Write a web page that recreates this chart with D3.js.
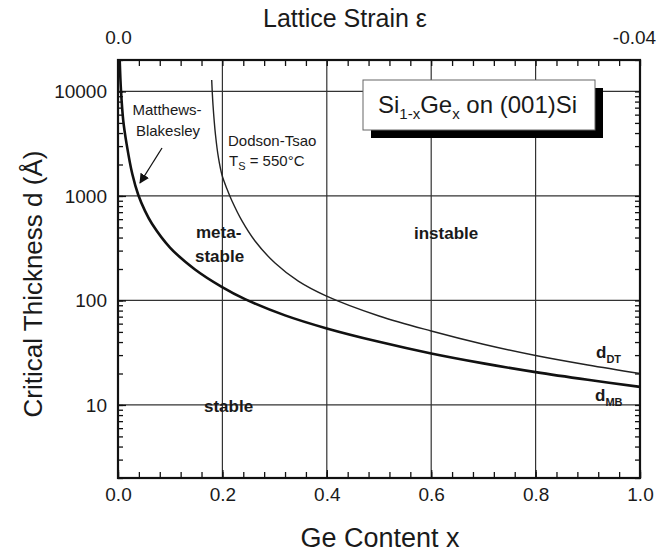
<!DOCTYPE html>
<html>
<head>
<meta charset="utf-8">
<script src="https://cdn.jsdelivr.net/npm/d3@7"></script>
<style>
  body { margin: 0; background: #fff; }
  text { font-family: "Liberation Sans", Arial, Helvetica, sans-serif; fill: #1a1a1a; }
</style>
</head>
<body>
<div id="app"></div>
<script>
// Matthews-Blakesley critical thickness
const mbX = [0.0033, 0.0057, 0.01, 0.0167, 0.0274, 0.0389, 0.0517, 0.0651, 0.0996, 0.1475, 0.1987, 0.2433, 0.32, 0.4, 0.5, 0.6, 0.7, 0.8, 0.9, 1.0];
const mbD = [19700, 10230, 5300, 3100, 1620, 1021, 720, 542, 321, 198, 135, 103, 72, 54, 40.2, 31.1, 25.0, 20.6, 17.4, 14.9];

// Dodson-Tsao, Ts = 550 C
const dtX = [0.1795, 0.182, 0.1868, 0.1925, 0.1992, 0.2088, 0.2184, 0.237, 0.2625, 0.3008, 0.3454, 0.3985, 0.5, 0.6, 0.7, 0.8, 0.9, 1.0];
const dtD = [12870, 7420, 3830, 2310, 1587, 1166, 895, 584, 371, 228, 153, 110.6, 71.0, 51.0, 38.1, 29.7, 24.1, 20.0];

const xTicks = [0.0, 0.2, 0.4, 0.6, 0.8, 1.0];
const yTicks = [10, 100, 1000, 10000];
const strainTicks = [0.0, -0.04];

const w = 659, h = 554;
const m = { top: 60, right: 19, bottom: 76, left: 118 };

const svg = d3.select("#app")
  .append("svg")
  .attr("width", w)
  .attr("height", h);

const x = d3.scaleLinear().domain([0, 1]).range([m.left, w - m.right]);
const y = d3.scaleLog().domain([2, 20000]).range([h - m.bottom, m.top]);
const strain = d3.scaleLinear().domain([0, -0.04]).range([m.left, w - m.right]);

// minor tick positions
const xMinor = d3.range(0, 25.5).map(i => i * 0.04);
const yMinor = [];
[1, 10, 100, 1000, 10000].forEach(dec => {
  for (let k = 1; k <= 9; k++) {
    const v = k * dec;
    if (v >= 2 && v <= 20000) yMinor.push(v);
  }
});

// gridlines
const grid = svg.append("g").attr("stroke", "#333").attr("stroke-width", 1.2);
grid.selectAll(".gx").data(xTicks.slice(1, -1)).enter().append("line")
  .attr("x1", d => x(d)).attr("x2", d => x(d))
  .attr("y1", m.top).attr("y2", h - m.bottom);
grid.selectAll(".gy").data(yTicks).enter().append("line")
  .attr("x1", m.left).attr("x2", w - m.right)
  .attr("y1", d => y(d)).attr("y2", d => y(d));

function styleAxis(g) {
  g.select(".domain").remove();
  g.selectAll("line").attr("stroke", "#111").attr("stroke-width", 1.3);
  g.selectAll("text").attr("font-size", 19).attr("fill", "#1a1a1a");
}

// minor ticks, pointing inward
svg.append("g").attr("transform", `translate(0,${h - m.bottom})`)
  .call(d3.axisBottom(x).tickValues(xMinor).tickSizeInner(-6).tickSizeOuter(0).tickFormat(""))
  .call(styleAxis);
svg.append("g").attr("transform", `translate(0,${m.top})`)
  .call(d3.axisTop(x).tickValues(xMinor).tickSizeInner(-6).tickSizeOuter(0).tickFormat(""))
  .call(styleAxis);
svg.append("g").attr("transform", `translate(${m.left},0)`)
  .call(d3.axisLeft(y).tickValues(yMinor).tickSizeInner(-5).tickSizeOuter(0).tickFormat(""))
  .call(styleAxis);
svg.append("g").attr("transform", `translate(${w - m.right},0)`)
  .call(d3.axisRight(y).tickValues(yMinor).tickSizeInner(-5).tickSizeOuter(0).tickFormat(""))
  .call(styleAxis);

// major ticks + labels
svg.append("g").attr("transform", `translate(0,${h - m.bottom})`)
  .call(d3.axisBottom(x).tickValues(xTicks).tickSizeInner(-8).tickSizeOuter(0).tickPadding(10).tickFormat(d3.format(".1f")))
  .call(styleAxis);
svg.append("g").attr("transform", `translate(${m.left},0)`)
  .call(d3.axisLeft(y).tickValues(yTicks).tickSizeInner(-8).tickSizeOuter(0).tickPadding(11).tickFormat(d3.format("d")))
  .call(styleAxis);
svg.append("g").attr("transform", `translate(0,${m.top})`)
  .call(d3.axisTop(strain).tickValues(strainTicks).tickSize(0).tickPadding(16).tickFormat(d => d === 0 ? "0.0" : "-0.04"))
  .call(styleAxis)
  .selectAll("text").attr("dx", d => d === 0 ? 0 : -6);

// curves
const line = d3.line()
  .x(d => x(d[0]))
  .y(d => y(d[1]))
  .curve(d3.curveCatmullRom.alpha(0.5));

svg.append("path")
  .datum(dtX.map((v, i) => [v, dtD[i]]))
  .attr("fill", "none").attr("stroke", "#222").attr("stroke-width", 1.4)
  .attr("d", line);
svg.append("path")
  .datum(mbX.map((v, i) => [v, mbD[i]]))
  .attr("fill", "none").attr("stroke", "#111").attr("stroke-width", 2.6)
  .attr("d", line);

// frame
svg.append("rect")
  .attr("x", m.left).attr("y", m.top)
  .attr("width", w - m.left - m.right).attr("height", h - m.top - m.bottom)
  .attr("fill", "none").attr("stroke", "#111").attr("stroke-width", 2.2);

// axis titles
svg.append("text").attr("x", 345).attr("y", 27).attr("text-anchor", "middle")
  .attr("font-size", 25).text("Lattice Strain ε");
svg.append("text").attr("x", 380).attr("y", 547).attr("text-anchor", "middle")
  .attr("font-size", 27).text("Ge Content x");
svg.append("text").attr("transform", "translate(42,284) rotate(-90)").attr("text-anchor", "middle")
  .attr("font-size", 26).text("Critical Thickness d (Å)");

// boxed label with shadow
svg.append("rect").attr("x", 371).attr("y", 88).attr("width", 232).attr("height", 50).attr("fill", "#000");
svg.append("rect").attr("x", 363).attr("y", 80).attr("width", 232).attr("height", 50)
  .attr("fill", "#fff").attr("stroke", "#666").attr("stroke-width", 1);
const title = svg.append("text").attr("x", 378).attr("y", 113).attr("font-size", 24);
title.append("tspan").text("Si");
title.append("tspan").attr("font-size", 15).attr("dy", 6).text("1-x");
title.append("tspan").attr("dy", -6).text("Ge");
title.append("tspan").attr("font-size", 15).attr("dy", 6).text("x");
title.append("tspan").attr("dy", -6).text(" on (001)Si");

// annotations
const note = svg.append("g").attr("font-size", 15);
note.append("text").attr("x", 167).attr("y", 115).attr("text-anchor", "middle").text("Matthews-");
note.append("text").attr("x", 168).attr("y", 136).attr("text-anchor", "middle").text("Blakesley");
note.append("text").attr("x", 228).attr("y", 146).text("Dodson-Tsao");
const ts = note.append("text").attr("x", 229).attr("y", 166);
ts.append("tspan").text("T");
ts.append("tspan").attr("font-size", 11).attr("dy", 4).text("S");
ts.append("tspan").attr("dy", -4).text(" = 550°C");

svg.append("defs").append("marker")
  .attr("id", "arr").attr("viewBox", "0 0 10 10").attr("refX", 9).attr("refY", 5)
  .attr("markerWidth", 10).attr("markerHeight", 10).attr("markerUnits", "userSpaceOnUse")
  .attr("orient", "auto")
  .append("path").attr("d", "M0,0 L10,5 L0,10 Z").attr("fill", "#111");
svg.append("line").attr("x1", 162).attr("y1", 148).attr("x2", 140).attr("y2", 183)
  .attr("stroke", "#111").attr("stroke-width", 1.3).attr("marker-end", "url(#arr)");

const bold = svg.append("g").attr("font-size", 17).attr("font-weight", "bold");
bold.append("text").attr("x", 196).attr("y", 238).text("meta-");
bold.append("text").attr("x", 195).attr("y", 262).text("stable");
bold.append("text").attr("x", 414).attr("y", 239).text("instable");
bold.append("text").attr("x", 204).attr("y", 412).text("stable");

const dt = bold.append("text").attr("x", 596).attr("y", 358);
dt.append("tspan").text("d");
dt.append("tspan").attr("font-size", 11).attr("dy", 5).text("DT");
const mb = bold.append("text").attr("x", 595).attr("y", 401);
mb.append("tspan").text("d");
mb.append("tspan").attr("font-size", 11).attr("dy", 5).text("MB");
</script>
</body>
</html>
